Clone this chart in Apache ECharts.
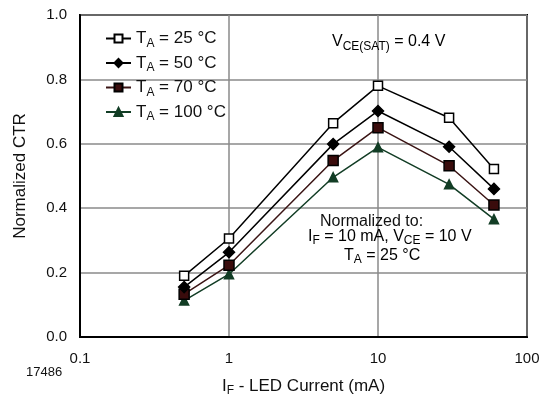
<html>
<head>
<meta charset="utf-8">
<script src="https://cdn.jsdelivr.net/npm/echarts@6/dist/echarts.min.js"></script>
</head>
<body style="margin:0">
<div id="main" style="width:544px;height:402px;"></div>
<script>
var FONT = 'Liberation Sans, Arial, sans-serif';

// LED current (mA)
var current = [0.5, 1, 5, 10, 30, 60];
var temps = ['25', '50', '70', '100'];
var ctr25 = [0.19, 0.306, 0.664, 0.78, 0.681, 0.522];
var ctr50 = [0.155, 0.263, 0.599, 0.702, 0.591, 0.46];
var ctr70 = [0.133, 0.223, 0.548, 0.65, 0.532, 0.41];
var ctr100 = [0.113, 0.195, 0.496, 0.589, 0.474, 0.366];
var xTicks = [0.1, 1, 10, 100];
var yTicks = [0, 0.2, 0.4, 0.6, 0.8, 1.0];

var myChart = echarts.init(document.getElementById('main'));

function pairs(ys) {
    return current.map(function (x, i) { return [x, ys[i]]; });
}

var styles = [
    {sym: 'rect', size: 9, fill: '#fff', border: '#000', line: '#000'},
    {sym: 'diamond', size: 11, fill: '#000', border: '#000', line: '#000'},
    {sym: 'rect', size: 10, fill: '#3a0c0c', border: '#000', line: '#3a1414'},
    {sym: 'triangle', size: 9, fill: '#123d25', border: '#123d25', line: '#123d25'}
];
var values = [ctr25, ctr50, ctr70, ctr100];

var series = temps.map(function (t, i) {
    var s = styles[i];
    return {
        name: t,
        type: 'line',
        data: pairs(values[i]),
        symbol: s.sym,
        symbolSize: s.size,
        showAllSymbol: true,
        lineStyle: {color: s.line, width: 1.5},
        itemStyle: {color: s.fill, borderColor: s.border, borderWidth: 1.5},
        z: 10 - i,
        animation: false
    };
});

// rich text with a subscript, sz = main font size
function subRich(sz, lh) {
    return {
        t: {fontSize: sz, fontFamily: FONT, color: '#111', lineHeight: lh, verticalAlign: 'middle'},
        s: {fontSize: Math.round(sz * 0.72), fontFamily: FONT, color: '#111', verticalAlign: 'bottom', padding: [0, 0, 1, 0]}
    };
}

option = {
    backgroundColor: '#fff',
    animation: false,
    grid: {
        left: 80, right: 17, top: 15, bottom: 65,
        show: true, borderColor: '#000', borderWidth: 2
    },
    legend: {
        orient: 'vertical',
        left: 100,
        top: 25,
        itemWidth: 25,
        itemHeight: 10,
        itemGap: 5,
        data: temps,
        formatter: function (n) { return '{t|T}{s|A}{t| = ' + n + ' °C}'; },
        textStyle: {rich: subRich(17, 24)}
    },
    xAxis: {
        type: 'log',
        logBase: 10,
        min: xTicks[0],
        max: xTicks[xTicks.length - 1],
        name: '{t|I}{s|F}{t| - LED Current (mA)}',
        nameLocation: 'middle',
        nameGap: 37,
        nameTextStyle: {rich: subRich(17, 24)},
        axisLine: {lineStyle: {color: '#000', width: 2}},
        axisTick: {show: false},
        axisLabel: {
            fontSize: 15, fontFamily: FONT, color: '#111', margin: 14,
            formatter: function (v) { return String(+v.toPrecision(3)); }
        },
        splitLine: {show: true, lineStyle: {color: '#8a8a8a', width: 1.5}},
        minorSplitLine: {show: false}
    },
    yAxis: {
        type: 'value',
        min: yTicks[0],
        max: yTicks[yTicks.length - 1],
        interval: 0.2,
        name: 'Normalized CTR',
        nameLocation: 'middle',
        nameGap: 51,
        nameTextStyle: {fontSize: 17, fontFamily: FONT, color: '#111'},
        axisLine: {lineStyle: {color: '#000', width: 2}},
        axisTick: {show: false},
        axisLabel: {
            fontSize: 15, fontFamily: FONT, color: '#111', margin: 13,
            formatter: function (v) { return v.toFixed(1); }
        },
        splitLine: {show: true, lineStyle: {color: '#8a8a8a', width: 1.5}}
    },
    graphic: [
        {type: 'text', left: 332, top: 34, z: 20,
            style: {text: '{t|V}{s|CE(SAT)}{t| = 0.4 V}', rich: subRich(16, 24)}},
        {type: 'text', left: 320, top: 214, z: 20,
            style: {text: 'Normalized to:', font: '16px ' + FONT, fill: '#111'}},
        {type: 'text', left: 308, top: 229, z: 20,
            style: {text: '{t|I}{s|F}{t| = 10 mA, V}{s|CE}{t| = 10 V}', rich: subRich(16, 22)}},
        {type: 'text', left: 344, top: 248, z: 20,
            style: {text: '{t|T}{s|A}{t| = 25 °C}', rich: subRich(16, 22)}},
        {type: 'text', left: 26, top: 366,
            style: {text: '17486', font: '13px ' + FONT, fill: '#111'}}
    ],
    series: series
};

myChart.setOption(option);
</script>
</body>
</html>
